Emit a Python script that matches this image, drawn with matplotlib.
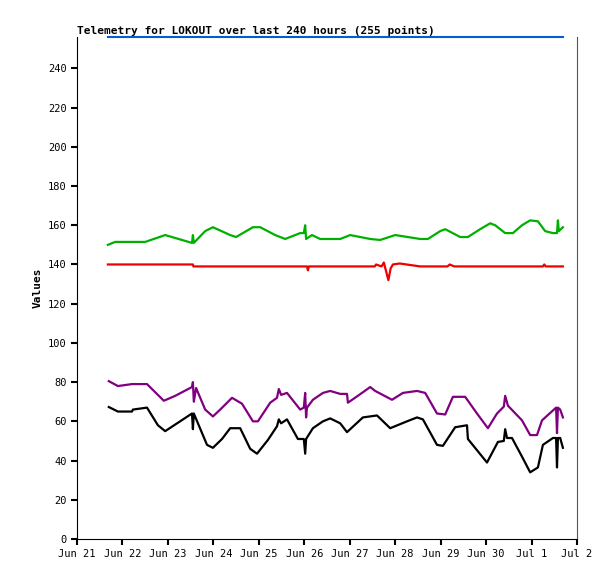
import matplotlib
matplotlib.use('Agg')
import matplotlib.pyplot as plt

# time in days after Jun 21 00:00
black_t = [0.70, 0.90, 1.21, 1.23, 1.54, 1.78, 1.94, 2.53, 2.55, 2.57, 2.86, 2.99, 3.19, 3.37, 3.59,
           3.81, 3.96, 4.20, 4.40, 4.44, 4.49, 4.62, 4.86, 4.99, 5.02, 5.04, 5.19, 5.41, 5.57, 5.79,
           5.94, 6.29, 6.60, 6.89, 7.26, 7.48, 7.61, 7.92, 8.05, 8.32, 8.58, 8.60, 9.02, 9.26, 9.39,
           9.42, 9.46, 9.57, 9.79, 9.97, 10.14, 10.25, 10.47, 10.54, 10.56, 10.58, 10.63, 10.69]
black_v = [67.3, 65, 65, 66, 67, 58, 55, 64, 56, 64, 48, 46.5, 51, 56.5, 56.5,
           46, 43.5, 50.5, 57.5, 61, 59, 61, 51, 51, 43.5, 51, 56.5, 60, 61.5, 59,
           54.5, 62, 63, 56.5, 60, 62, 61, 48, 47.5, 57, 58, 51, 39, 49.5, 50,
           56, 51.5, 51.5, 42, 34, 36.5, 48, 51.5, 51.5, 36.5, 51.5, 51.5, 46.5]

purple_t = [0.70, 0.90, 1.21, 1.54, 1.91, 2.16, 2.53, 2.55, 2.57, 2.62, 2.82, 2.99, 3.15, 3.41, 3.63,
            3.87, 3.98, 4.25, 4.40, 4.44, 4.49, 4.62, 4.91, 4.99, 5.02, 5.04, 5.06, 5.19, 5.41, 5.57,
            5.79, 5.94, 5.96, 6.27, 6.45, 6.56, 6.93, 7.17, 7.48, 7.66, 7.92, 8.10, 8.27, 8.54, 8.80,
            9.04, 9.24, 9.39, 9.42, 9.48, 9.79, 9.97, 10.12, 10.23, 10.54, 10.56, 10.58, 10.63, 10.69]
purple_v = [80.5, 78, 79, 79, 70.5, 73, 77.5, 80, 70, 77, 66, 62.5, 66, 72, 69,
            60, 60, 69.5, 72, 76.5, 73.5, 74.5, 66, 67, 74.5, 62, 67, 71, 74.5, 75.5,
            74, 74, 69.5, 74.5, 77.5, 75.5, 71, 74.5, 75.5, 74.5, 64, 63.5, 72.5, 72.5, 64,
            56.5, 64, 67.5, 73, 68, 60.5, 53, 53, 60.5, 67, 54, 67, 66, 62]

green_t = [0.68, 0.84, 1.50, 1.94, 2.53, 2.55, 2.57, 2.82, 2.99, 3.37, 3.50, 3.87, 4.03, 4.36, 4.58,
           4.91, 4.99, 5.02, 5.04, 5.17, 5.35, 5.79, 6.01, 6.45, 6.67, 7.00, 7.55, 7.72, 7.99, 8.10,
           8.43, 8.60, 8.87, 9.09, 9.20, 9.42, 9.59, 9.79, 9.97, 10.14, 10.30, 10.47, 10.56, 10.58,
           10.60, 10.69]
green_v = [150, 151.5, 151.5, 155, 151, 155, 151, 157, 159, 155, 154, 159, 159, 155, 153,
           156, 156, 160, 153, 155, 153, 153, 155, 153, 152.5, 155, 153, 153, 157, 158,
           154, 154, 158, 161, 160, 156, 156, 160, 162.5, 162, 157, 156, 156, 162.5,
           157, 159]

red_t = [0.68, 2.55, 2.56, 5.06, 5.08, 5.10, 6.55, 6.58, 6.70, 6.75, 6.85, 6.90, 6.95, 7.10, 7.55,
         8.15, 8.20, 8.30, 10.25, 10.28, 10.31, 10.69]
red_v = [140, 140, 139, 139, 137, 139, 139, 140, 139, 141, 132, 138, 140, 140.5, 139,
         139, 140, 139, 139, 140, 139, 139]

blue_t = [0.68, 10.69]
blue_v = [256, 256]

day_labels = ['Jun 21', 'Jun 22', 'Jun 23', 'Jun 24', 'Jun 25', 'Jun 26',
              'Jun 27', 'Jun 28', 'Jun 29', 'Jun 30', 'Jul 1', 'Jul 2']

plt.rcParams['font.family'] = 'DejaVu Sans Mono'
fig = plt.figure(figsize=(6.15, 5.79), dpi=100)
ax = fig.add_axes([77/615, 40/579, 500/615, 502/579])

ax.plot(blue_t, blue_v, color='#0060d0', lw=1.5, clip_on=False)
ax.plot(green_t, green_v, color='#00b000', lw=1.6)
ax.plot(red_t, red_v, color='#ee0000', lw=1.6)
ax.plot(purple_t, purple_v, color='#800080', lw=1.6)
ax.plot(black_t, black_v, color='black', lw=1.6)

ax.set_xlim(0, 11)
ax.set_ylim(0, 256)
ax.set_xticks(range(12))
ax.set_xticklabels(day_labels, fontsize=8)
ax.set_yticks(range(0, 241, 20))
ax.tick_params(labelsize=7.5, length=4, width=1.5)
ax.spines['top'].set_visible(False)
ax.spines['right'].set_color('#555555')
ax.set_ylabel('Values', fontsize=8, fontweight='bold')
ax.set_title('Telemetry for LOKOUT over last 240 hours (255 points)',
             fontsize=8, fontweight='bold', loc='left', pad=2)

fig.savefig('out.png')
